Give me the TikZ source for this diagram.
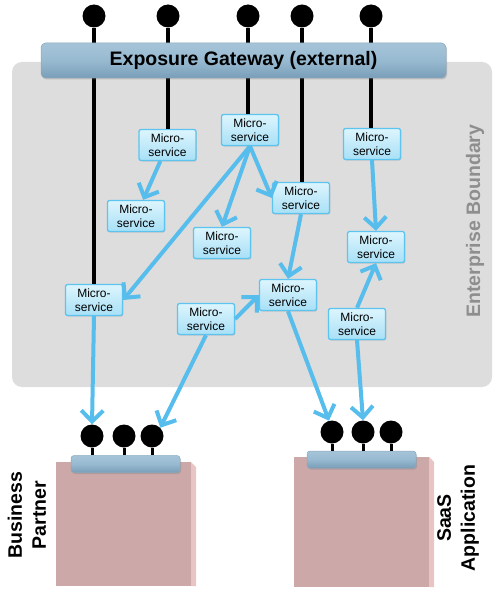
\documentclass[tikz,border=0pt]{standalone}
\usepackage{fontspec}
\setmainfont{Liberation Sans}
\usetikzlibrary{arrows.meta,shadows,calc}
\definecolor{bnd}{HTML}{DDDDDD}
\definecolor{flowc}{HTML}{56BDEC}
\definecolor{msborder}{HTML}{5CC4EE}
\definecolor{mstop}{HTML}{DDF5FD}
\definecolor{msbot}{HTML}{A8E0F6}
\definecolor{gwtop}{HTML}{A6C4D8}
\definecolor{gwmid}{HTML}{97BAD1}
\definecolor{gwbot}{HTML}{7A9EB8}
\definecolor{pinkf}{HTML}{CCA8A8}
\definecolor{pinks}{HTML}{E8C4C4}
\definecolor{bndtext}{HTML}{8E8E8E}
\begin{document}
\begin{tikzpicture}[x=1pt,y=-1pt,
  ms/.style={draw=msborder, line width=1.3pt, rounded corners=2pt, top color=mstop, bottom color=msbot,
    minimum width=57pt, minimum height=31pt, inner sep=1pt, align=center,
    font=\fontsize{12}{13.5}\selectfont,
    drop shadow={opacity=0.25, shadow xshift=0.8pt, shadow yshift=-1pt}},
  lolli/.style={circle, fill=black, minimum size=23pt, inner sep=0pt},
  stem/.style={line width=4pt, black},
  smallstem/.style={line width=3pt, black},
  flow/.style={draw=flowc, line width=4pt, -{Straight Barb[length=11pt,width=22pt]}},
  gwbar/.style={rectangle, rounded corners=4.5pt, draw=gwbot!90, line width=0.5pt,
    top color=gwtop, bottom color=gwbot, middle color=gwmid,
    drop shadow={opacity=0.35, shadow xshift=1pt, shadow yshift=-1.5pt}},
  big/.style={font=\fontsize{19.5}{24}\selectfont\bfseries, align=center},
  box/.style={fill=pinkf},
  boxside/.style={fill=pinks}
]
\useasboundingbox (0,0) rectangle (499,599);

% enterprise boundary
\fill[bnd, rounded corners=10pt] (12,62) rectangle (492,387);
\node[big, rotate=90, text=bndtext] (eb) at (475,221) {Enterprise Boundary};

% top lollipops
\node[lolli] (t1) at (94,16) {};
\node[lolli] (t2) at (168,16) {};
\node[lolli] (t3) at (248,16) {};
\node[lolli] (t4) at (302,16) {};
\node[lolli] (t5) at (371,16) {};

% microservices
\node[ms] (A) at (167.5,145) {Micro-\\service};
\node[ms] (B) at (250,130) {Micro-\\service};
\node[ms] (C) at (136,216) {Micro-\\service};
\node[ms] (D) at (222,243) {Micro-\\service};
\node[ms] (E) at (301,198) {Micro-\\service};
\node[ms] (F) at (372,144) {Micro-\\service};
\node[ms] (G) at (376,247) {Micro-\\service};
\node[ms] (H) at (94,300) {Micro-\\service};
\node[ms] (I) at (206,319) {Micro-\\service};
\node[ms] (J) at (288,295) {Micro-\\service};
\node[ms] (K) at (357,324) {Micro-\\service};

% stems from top lollipops
\draw[stem] (t1) -- (t1 |- H.north);
\draw[stem] (t2) -- (t2 |- A.north);
\draw[stem] (t3) -- (t3 |- B.north);
\draw[stem] (t4) -- (t4 |- E.north);
\draw[stem] (t5) -- (t5 |- F.north);

% gateway
\node[gwbar, minimum width=405pt, minimum height=35pt, font=\fontsize{19.5}{21}\selectfont\bfseries]
  (gw) at (243.5,60.5) {Exposure Gateway (external)};

% Business partner
\fill[box] (56,462) rectangle (191,586);
\fill[boxside] (191,462) -- (196,467) -- (196,586) -- (191,586) -- cycle;
\node[gwbar, minimum width=109pt, minimum height=17pt, rounded corners=3pt] (bpbar) at (125.5,464) {};
\node[lolli] (bp1) at (92,436) {};
\node[lolli] (bp2) at (124,436) {};
\node[lolli] (bp3) at (152,436) {};
\draw[smallstem] (bp1) -- (bp1 |- bpbar.north);
\draw[smallstem] (bp2) -- (bp2 |- bpbar.north);
\draw[smallstem] (bp3) -- (bp3 |- bpbar.north);
\node[big, rotate=90] (bptext) at (27,515) {Business\\Partner};

% SaaS application
\fill[box] (294,457) rectangle (429,587);
\fill[boxside] (429,457) -- (434,462) -- (434,587) -- (429,587) -- cycle;
\node[gwbar, minimum width=109pt, minimum height=17pt, rounded corners=3pt] (sabar) at (361.5,459.5) {};
\node[lolli] (sa1) at (332,432) {};
\node[lolli] (sa2) at (363,432) {};
\node[lolli] (sa3) at (391,432) {};
\draw[smallstem] (sa1) -- (sa1 |- sabar.north);
\draw[smallstem] (sa2) -- (sa2 |- sabar.north);
\draw[smallstem] (sa3) -- (sa3 |- sabar.north);
\node[big, rotate=90] (satext) at (458,518) {SaaS\\Application};

% flows
\draw[flow] (A) -- (C);
\draw[flow] (B.south) -- (H.east);
\draw[flow] (B.south) -- (D.north);
\draw[flow] (B.south) -- (E.west);
\draw[flow] (E.south) -- (J.north);
\draw[flow] (F.south) -- (G.north);
\draw[flow] (K.north) -- (G.south);
\draw[flow] (I.east) -- (J.west);
\draw[flow] (H.south) -- (bp1.north);
\draw[flow] (I.south) -- (bp3.north east);
\draw[flow] (J.south) -- (sa1.105);
\draw[flow] (K.south) -- (sa2.north);
\end{tikzpicture}
\end{document}
